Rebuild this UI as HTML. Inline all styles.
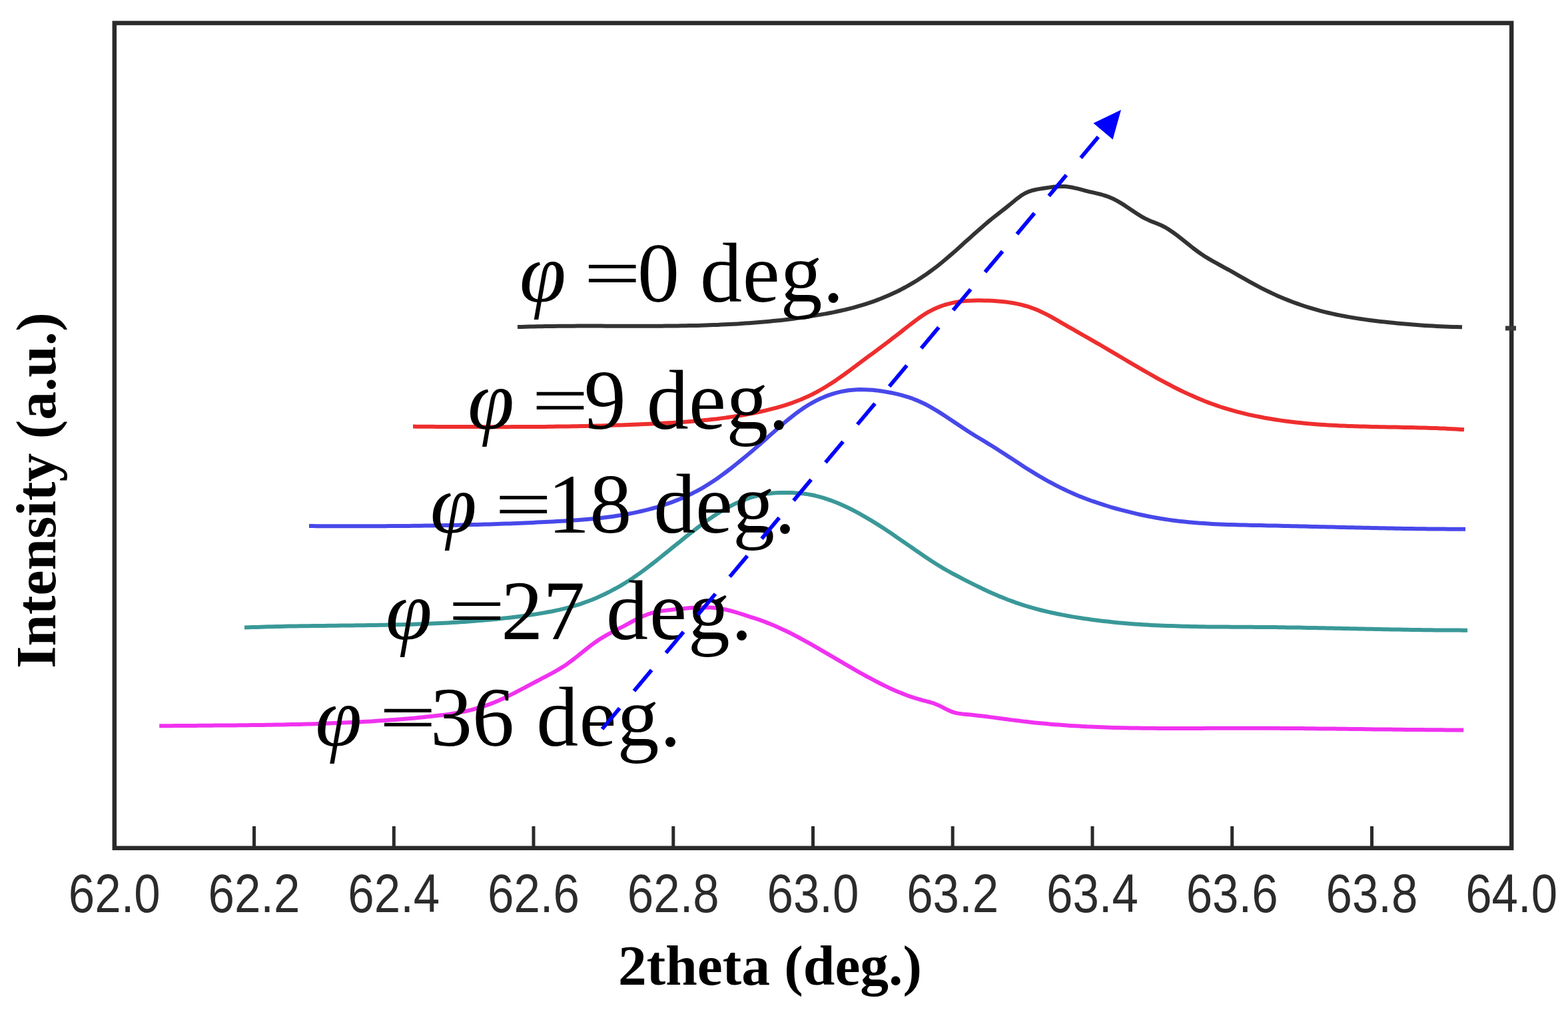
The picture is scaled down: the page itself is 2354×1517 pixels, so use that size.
<!DOCTYPE html>
<html><head><meta charset="utf-8"><title>XRD 2theta scan</title>
<style>
html,body{margin:0;padding:0;background:#fff;}
body{width:2354px;height:1517px;overflow:hidden;}
svg{display:block;}
.tk{font-family:"Liberation Sans",Arial,sans-serif;font-size:82px;fill:#2b2b2b;}
.lab{font-family:"Liberation Serif","Times New Roman",serif;font-size:126px;fill:#000;}
.eq{font-family:"DejaVu Sans",sans-serif;font-weight:200;font-size:133px;fill:#000;}
.ax{font-family:"Liberation Serif","Times New Roman",serif;font-weight:bold;font-size:85.5px;fill:#000;}
</style></head><body>
<svg xmlns="http://www.w3.org/2000/svg" width="2354" height="1517" viewBox="0 0 2354 1517">
<rect width="2354" height="1517" fill="#fff"/>
<path d="M777.0,491.1 L783.0,490.9 L789.0,490.7 L795.0,490.5 L801.0,490.4 L807.0,490.3 L813.0,490.2 L819.0,490.0 L825.0,490.0 L831.0,489.9 L837.0,489.8 L843.0,489.8 L849.0,489.7 L855.0,489.7 L861.0,489.7 L867.0,489.6 L873.0,489.6 L879.0,489.6 L885.0,489.6 L891.0,489.6 L897.0,489.6 L903.0,489.6 L909.0,489.7 L915.0,489.7 L921.0,489.7 L927.0,489.7 L933.0,489.7 L939.0,489.7 L945.0,489.7 L951.0,489.8 L957.0,489.8 L963.0,489.8 L969.0,489.8 L975.0,489.7 L981.0,489.7 L987.0,489.7 L993.0,489.7 L999.0,489.6 L1005.0,489.6 L1011.0,489.5 L1017.0,489.4 L1023.0,489.3 L1029.0,489.2 L1035.0,489.1 L1041.0,489.0 L1047.0,488.9 L1053.0,488.7 L1059.0,488.5 L1065.0,488.3 L1071.0,488.1 L1077.0,487.9 L1083.0,487.6 L1089.0,487.3 L1095.0,487.0 L1101.0,486.7 L1107.0,486.4 L1113.0,486.0 L1119.0,485.6 L1125.0,485.2 L1131.0,484.8 L1137.0,484.3 L1143.0,483.8 L1149.0,483.3 L1155.0,482.7 L1161.0,482.1 L1167.0,481.5 L1173.0,480.9 L1179.0,480.2 L1185.0,479.5 L1191.0,478.7 L1197.0,477.9 L1203.0,477.1 L1209.0,476.2 L1215.0,475.3 L1221.0,474.4 L1227.0,473.4 L1233.0,472.4 L1239.0,471.4 L1245.0,470.2 L1251.0,469.1 L1257.0,467.8 L1263.0,466.5 L1269.0,465.1 L1275.0,463.6 L1281.0,462.1 L1287.0,460.4 L1293.0,458.7 L1299.0,456.8 L1305.0,454.9 L1311.0,452.8 L1317.0,450.6 L1323.0,448.3 L1329.0,445.8 L1335.0,443.3 L1341.0,440.5 L1347.0,437.7 L1353.0,434.7 L1359.0,431.5 L1365.0,428.1 L1371.0,424.6 L1377.0,421.0 L1383.0,417.1 L1389.0,413.1 L1395.0,408.8 L1401.0,404.4 L1407.0,399.8 L1413.0,395.0 L1419.0,390.0 L1425.0,384.9 L1431.0,379.7 L1437.0,374.4 L1443.0,369.0 L1449.0,363.6 L1455.0,358.2 L1461.0,352.8 L1467.0,347.5 L1473.0,342.2 L1479.0,337.0 L1485.0,331.9 L1491.0,327.0 L1497.0,322.3 L1503.0,317.6 L1509.0,313.0 L1515.0,308.2 L1521.0,303.2 L1527.0,298.3 L1533.0,293.8 L1539.0,290.2 L1545.0,287.6 L1551.0,285.7 L1557.0,284.4 L1563.0,283.4 L1569.0,282.5 L1575.0,281.6 L1581.0,280.8 L1587.0,280.3 L1593.0,280.0 L1599.0,280.1 L1605.0,280.8 L1611.0,281.8 L1617.0,283.2 L1623.0,284.7 L1629.0,286.3 L1635.0,287.8 L1641.0,289.2 L1647.0,290.6 L1653.0,292.0 L1659.0,293.8 L1665.0,295.9 L1671.0,298.5 L1677.0,301.6 L1683.0,305.1 L1689.0,308.9 L1695.0,312.9 L1701.0,317.0 L1707.0,321.0 L1713.0,324.8 L1719.0,328.1 L1725.0,330.9 L1731.0,333.4 L1737.0,335.7 L1743.0,338.3 L1749.0,341.3 L1755.0,344.9 L1761.0,349.0 L1767.0,353.4 L1773.0,358.1 L1779.0,362.9 L1785.0,367.7 L1791.0,372.5 L1797.0,377.0 L1803.0,381.3 L1809.0,385.2 L1815.0,388.9 L1821.0,392.4 L1827.0,395.7 L1833.0,399.0 L1839.0,402.3 L1845.0,405.5 L1851.0,408.9 L1857.0,412.3 L1863.0,415.8 L1869.0,419.2 L1875.0,422.6 L1881.0,425.9 L1887.0,429.2 L1893.0,432.3 L1899.0,435.4 L1905.0,438.3 L1911.0,441.1 L1917.0,443.9 L1923.0,446.5 L1929.0,449.0 L1935.0,451.4 L1941.0,453.7 L1947.0,455.9 L1953.0,458.0 L1959.0,460.0 L1965.0,461.9 L1971.0,463.7 L1977.0,465.4 L1983.0,467.1 L1989.0,468.6 L1995.0,470.0 L2001.0,471.4 L2007.0,472.7 L2013.0,473.9 L2019.0,475.0 L2025.0,476.1 L2031.0,477.1 L2037.0,478.1 L2043.0,479.0 L2049.0,479.9 L2055.0,480.7 L2061.0,481.4 L2067.0,482.2 L2073.0,482.9 L2079.0,483.6 L2085.0,484.2 L2091.0,484.8 L2097.0,485.4 L2103.0,486.0 L2109.0,486.6 L2115.0,487.1 L2121.0,487.6 L2127.0,488.0 L2133.0,488.5 L2139.0,488.9 L2145.0,489.3 L2151.0,489.6 L2157.0,489.9 L2163.0,490.2 L2169.0,490.5 L2175.0,490.7 L2181.0,490.9 L2187.0,491.1 L2193.0,491.2 L2195.0,491.3" fill="none" stroke="#333333" stroke-width="6.0" stroke-linejoin="round" stroke-linecap="butt"/>
<path d="M620.0,640.6 L626.0,640.7 L632.0,640.7 L638.0,640.8 L644.0,640.8 L650.0,640.8 L656.0,640.9 L662.0,640.9 L668.0,640.9 L674.0,641.0 L680.0,641.0 L686.0,641.0 L692.0,641.1 L698.0,641.1 L704.0,641.1 L710.0,641.1 L716.0,641.1 L722.0,641.2 L728.0,641.2 L734.0,641.2 L740.0,641.2 L746.0,641.2 L752.0,641.2 L758.0,641.2 L764.0,641.2 L770.0,641.1 L776.0,641.1 L782.0,641.1 L788.0,641.1 L794.0,641.0 L800.0,641.0 L806.0,641.0 L812.0,640.9 L818.0,640.9 L824.0,640.8 L830.0,640.7 L836.0,640.6 L842.0,640.6 L848.0,640.5 L854.0,640.4 L860.0,640.3 L866.0,640.2 L872.0,640.1 L878.0,639.9 L884.0,639.8 L890.0,639.7 L896.0,639.5 L902.0,639.4 L908.0,639.2 L914.0,639.0 L920.0,638.8 L926.0,638.6 L932.0,638.4 L938.0,638.2 L944.0,638.0 L950.0,637.8 L956.0,637.5 L962.0,637.3 L968.0,637.0 L974.0,636.8 L980.0,636.5 L986.0,636.2 L992.0,635.9 L998.0,635.6 L1004.0,635.2 L1010.0,634.9 L1016.0,634.5 L1022.0,634.1 L1028.0,633.7 L1034.0,633.2 L1040.0,632.7 L1046.0,632.2 L1052.0,631.7 L1058.0,631.1 L1064.0,630.5 L1070.0,629.8 L1076.0,629.2 L1082.0,628.4 L1088.0,627.6 L1094.0,626.8 L1100.0,625.9 L1106.0,625.0 L1112.0,624.0 L1118.0,623.0 L1124.0,621.9 L1130.0,620.7 L1136.0,619.5 L1142.0,618.2 L1148.0,616.9 L1154.0,615.4 L1160.0,613.9 L1166.0,612.3 L1172.0,610.6 L1178.0,608.8 L1184.0,606.8 L1190.0,604.8 L1196.0,602.5 L1202.0,600.2 L1208.0,597.6 L1214.0,594.9 L1220.0,592.0 L1226.0,588.9 L1232.0,585.5 L1238.0,582.0 L1244.0,578.3 L1250.0,574.4 L1256.0,570.4 L1262.0,566.2 L1268.0,562.0 L1274.0,557.6 L1280.0,553.2 L1286.0,548.7 L1292.0,544.2 L1298.0,539.7 L1304.0,535.2 L1310.0,530.8 L1316.0,526.3 L1322.0,521.8 L1328.0,517.3 L1334.0,512.8 L1340.0,508.2 L1346.0,503.6 L1352.0,499.0 L1358.0,494.2 L1364.0,489.5 L1370.0,484.8 L1376.0,480.3 L1382.0,476.0 L1388.0,472.0 L1394.0,468.4 L1400.0,465.3 L1406.0,462.5 L1412.0,460.1 L1418.0,458.0 L1424.0,456.3 L1430.0,454.9 L1436.0,453.7 L1442.0,452.8 L1448.0,452.1 L1454.0,451.7 L1460.0,451.4 L1466.0,451.2 L1472.0,451.2 L1478.0,451.4 L1484.0,451.6 L1490.0,451.8 L1496.0,452.2 L1502.0,452.7 L1508.0,453.3 L1514.0,454.1 L1520.0,455.0 L1526.0,456.1 L1532.0,457.4 L1538.0,459.0 L1544.0,460.7 L1550.0,462.8 L1556.0,465.1 L1562.0,467.8 L1568.0,470.6 L1574.0,473.7 L1580.0,477.0 L1586.0,480.3 L1592.0,483.8 L1598.0,487.3 L1604.0,490.8 L1610.0,494.2 L1616.0,497.7 L1622.0,501.1 L1628.0,504.5 L1634.0,507.9 L1640.0,511.3 L1646.0,514.8 L1652.0,518.2 L1658.0,521.8 L1664.0,525.3 L1670.0,528.8 L1676.0,532.4 L1682.0,536.0 L1688.0,539.5 L1694.0,543.1 L1700.0,546.6 L1706.0,550.1 L1712.0,553.6 L1718.0,557.1 L1724.0,560.5 L1730.0,563.9 L1736.0,567.3 L1742.0,570.6 L1748.0,573.8 L1754.0,577.0 L1760.0,580.2 L1766.0,583.2 L1772.0,586.2 L1778.0,589.1 L1784.0,591.9 L1790.0,594.6 L1796.0,597.3 L1802.0,599.8 L1808.0,602.3 L1814.0,604.6 L1820.0,606.8 L1826.0,608.9 L1832.0,611.0 L1838.0,612.9 L1844.0,614.7 L1850.0,616.4 L1856.0,618.1 L1862.0,619.7 L1868.0,621.1 L1874.0,622.6 L1880.0,623.9 L1886.0,625.1 L1892.0,626.3 L1898.0,627.5 L1904.0,628.5 L1910.0,629.5 L1916.0,630.5 L1922.0,631.4 L1928.0,632.2 L1934.0,633.0 L1940.0,633.7 L1946.0,634.4 L1952.0,635.1 L1958.0,635.7 L1964.0,636.2 L1970.0,636.7 L1976.0,637.2 L1982.0,637.7 L1988.0,638.1 L1994.0,638.4 L2000.0,638.8 L2006.0,639.1 L2012.0,639.4 L2018.0,639.6 L2024.0,639.9 L2030.0,640.1 L2036.0,640.3 L2042.0,640.5 L2048.0,640.6 L2054.0,640.8 L2060.0,640.9 L2066.0,641.1 L2072.0,641.2 L2078.0,641.3 L2084.0,641.4 L2090.0,641.5 L2096.0,641.6 L2102.0,641.7 L2108.0,641.9 L2114.0,642.0 L2120.0,642.1 L2126.0,642.2 L2132.0,642.4 L2138.0,642.6 L2144.0,642.7 L2150.0,642.9 L2156.0,643.1 L2162.0,643.4 L2168.0,643.6 L2174.0,643.9 L2180.0,644.2 L2186.0,644.6 L2192.0,644.9 L2198.0,645.3" fill="none" stroke="#ee2e2e" stroke-width="6.0" stroke-linejoin="round" stroke-linecap="butt"/>
<path d="M464.0,790.1 L470.0,790.1 L476.0,790.2 L482.0,790.2 L488.0,790.2 L494.0,790.2 L500.0,790.3 L506.0,790.3 L512.0,790.3 L518.0,790.3 L524.0,790.3 L530.0,790.3 L536.0,790.3 L542.0,790.3 L548.0,790.3 L554.0,790.3 L560.0,790.3 L566.0,790.2 L572.0,790.2 L578.0,790.2 L584.0,790.1 L590.0,790.1 L596.0,790.1 L602.0,790.0 L608.0,789.9 L614.0,789.9 L620.0,789.8 L626.0,789.7 L632.0,789.7 L638.0,789.6 L644.0,789.5 L650.0,789.4 L656.0,789.3 L662.0,789.2 L668.0,789.1 L674.0,789.0 L680.0,788.8 L686.0,788.7 L692.0,788.6 L698.0,788.4 L704.0,788.3 L710.0,788.1 L716.0,788.0 L722.0,787.8 L728.0,787.6 L734.0,787.4 L740.0,787.2 L746.0,787.0 L752.0,786.8 L758.0,786.6 L764.0,786.4 L770.0,786.2 L776.0,785.9 L782.0,785.7 L788.0,785.4 L794.0,785.2 L800.0,784.9 L806.0,784.6 L812.0,784.3 L818.0,784.0 L824.0,783.7 L830.0,783.4 L836.0,783.1 L842.0,782.7 L848.0,782.4 L854.0,782.0 L860.0,781.6 L866.0,781.2 L872.0,780.8 L878.0,780.3 L884.0,779.8 L890.0,779.2 L896.0,778.6 L902.0,778.0 L908.0,777.3 L914.0,776.5 L920.0,775.7 L926.0,774.8 L932.0,773.9 L938.0,772.9 L944.0,771.8 L950.0,770.6 L956.0,769.4 L962.0,768.0 L968.0,766.6 L974.0,765.1 L980.0,763.5 L986.0,761.8 L992.0,759.9 L998.0,758.0 L1004.0,755.9 L1010.0,753.8 L1016.0,751.4 L1022.0,749.0 L1028.0,746.4 L1034.0,743.6 L1040.0,740.7 L1046.0,737.6 L1052.0,734.3 L1058.0,730.8 L1064.0,727.1 L1070.0,723.2 L1076.0,719.2 L1082.0,714.9 L1088.0,710.5 L1094.0,706.0 L1100.0,701.3 L1106.0,696.5 L1112.0,691.7 L1118.0,686.7 L1124.0,681.8 L1130.0,676.7 L1136.0,671.5 L1142.0,666.2 L1148.0,660.9 L1154.0,655.5 L1160.0,650.2 L1166.0,644.9 L1172.0,639.6 L1178.0,634.5 L1184.0,629.6 L1190.0,624.8 L1196.0,620.2 L1202.0,615.9 L1208.0,611.8 L1214.0,608.0 L1220.0,604.6 L1226.0,601.4 L1232.0,598.5 L1238.0,595.9 L1244.0,593.6 L1250.0,591.6 L1256.0,589.8 L1262.0,588.4 L1268.0,587.2 L1274.0,586.3 L1280.0,585.7 L1286.0,585.3 L1292.0,585.1 L1298.0,585.2 L1304.0,585.4 L1310.0,585.8 L1316.0,586.4 L1322.0,587.2 L1328.0,588.1 L1334.0,589.2 L1340.0,590.3 L1346.0,591.7 L1352.0,593.1 L1358.0,594.8 L1364.0,596.7 L1370.0,598.7 L1376.0,601.1 L1382.0,603.7 L1388.0,606.5 L1394.0,609.7 L1400.0,613.1 L1406.0,616.6 L1412.0,620.4 L1418.0,624.3 L1424.0,628.2 L1430.0,632.2 L1436.0,636.3 L1442.0,640.3 L1448.0,644.3 L1454.0,648.2 L1460.0,652.0 L1466.0,655.7 L1472.0,659.3 L1478.0,662.9 L1484.0,666.6 L1490.0,670.3 L1496.0,674.0 L1502.0,677.9 L1508.0,681.7 L1514.0,685.7 L1520.0,689.6 L1526.0,693.6 L1532.0,697.5 L1538.0,701.4 L1544.0,705.2 L1550.0,708.9 L1556.0,712.6 L1562.0,716.2 L1568.0,719.6 L1574.0,723.0 L1580.0,726.2 L1586.0,729.4 L1592.0,732.4 L1598.0,735.3 L1604.0,738.1 L1610.0,740.8 L1616.0,743.4 L1622.0,745.9 L1628.0,748.2 L1634.0,750.5 L1640.0,752.7 L1646.0,754.7 L1652.0,756.7 L1658.0,758.7 L1664.0,760.5 L1670.0,762.3 L1676.0,764.0 L1682.0,765.6 L1688.0,767.2 L1694.0,768.7 L1700.0,770.2 L1706.0,771.6 L1712.0,773.0 L1718.0,774.3 L1724.0,775.5 L1730.0,776.6 L1736.0,777.7 L1742.0,778.8 L1748.0,779.7 L1754.0,780.6 L1760.0,781.5 L1766.0,782.2 L1772.0,782.9 L1778.0,783.6 L1784.0,784.2 L1790.0,784.8 L1796.0,785.3 L1802.0,785.7 L1808.0,786.1 L1814.0,786.5 L1820.0,786.9 L1826.0,787.2 L1832.0,787.4 L1838.0,787.7 L1844.0,787.9 L1850.0,788.1 L1856.0,788.3 L1862.0,788.5 L1868.0,788.6 L1874.0,788.7 L1880.0,788.9 L1886.0,789.0 L1892.0,789.1 L1898.0,789.2 L1904.0,789.4 L1910.0,789.5 L1916.0,789.6 L1922.0,789.7 L1928.0,789.9 L1934.0,790.0 L1940.0,790.2 L1946.0,790.3 L1952.0,790.4 L1958.0,790.6 L1964.0,790.7 L1970.0,790.9 L1976.0,791.0 L1982.0,791.2 L1988.0,791.3 L1994.0,791.4 L2000.0,791.6 L2006.0,791.7 L2012.0,791.9 L2018.0,792.0 L2024.0,792.2 L2030.0,792.3 L2036.0,792.4 L2042.0,792.6 L2048.0,792.7 L2054.0,792.8 L2060.0,793.0 L2066.0,793.1 L2072.0,793.2 L2078.0,793.3 L2084.0,793.5 L2090.0,793.6 L2096.0,793.7 L2102.0,793.8 L2108.0,793.9 L2114.0,794.0 L2120.0,794.1 L2126.0,794.2 L2132.0,794.3 L2138.0,794.3 L2144.0,794.4 L2150.0,794.5 L2156.0,794.5 L2162.0,794.6 L2168.0,794.6 L2174.0,794.7 L2180.0,794.7 L2186.0,794.7 L2192.0,794.7 L2198.0,794.7 L2200.0,794.7" fill="none" stroke="#4848ea" stroke-width="6.0" stroke-linejoin="round" stroke-linecap="butt"/>
<path d="M367.0,942.5 L373.0,942.3 L379.0,942.1 L385.0,941.9 L391.0,941.7 L397.0,941.5 L403.0,941.3 L409.0,941.2 L415.0,941.0 L421.0,940.9 L427.0,940.8 L433.0,940.6 L439.0,940.5 L445.0,940.4 L451.0,940.3 L457.0,940.2 L463.0,940.2 L469.0,940.1 L475.0,940.0 L481.0,939.9 L487.0,939.9 L493.0,939.8 L499.0,939.7 L505.0,939.7 L511.0,939.6 L517.0,939.5 L523.0,939.5 L529.0,939.4 L535.0,939.3 L541.0,939.3 L547.0,939.2 L553.0,939.1 L559.0,939.0 L565.0,938.9 L571.0,938.8 L577.0,938.7 L583.0,938.6 L589.0,938.5 L595.0,938.3 L601.0,938.2 L607.0,938.0 L613.0,937.9 L619.0,937.7 L625.0,937.5 L631.0,937.3 L637.0,937.1 L643.0,936.8 L649.0,936.6 L655.0,936.3 L661.0,936.0 L667.0,935.7 L673.0,935.4 L679.0,935.1 L685.0,934.7 L691.0,934.3 L697.0,933.9 L703.0,933.5 L709.0,933.1 L715.0,932.6 L721.0,932.1 L727.0,931.6 L733.0,931.1 L739.0,930.5 L745.0,929.9 L751.0,929.3 L757.0,928.6 L763.0,928.0 L769.0,927.3 L775.0,926.5 L781.0,925.8 L787.0,925.0 L793.0,924.1 L799.0,923.3 L805.0,922.4 L811.0,921.4 L817.0,920.4 L823.0,919.3 L829.0,918.2 L835.0,916.9 L841.0,915.6 L847.0,914.2 L853.0,912.6 L859.0,911.0 L865.0,909.2 L871.0,907.3 L877.0,905.2 L883.0,903.0 L889.0,900.7 L895.0,898.2 L901.0,895.5 L907.0,892.7 L913.0,889.8 L919.0,886.7 L925.0,883.5 L931.0,880.1 L937.0,876.5 L943.0,872.8 L949.0,868.9 L955.0,864.8 L961.0,860.6 L967.0,856.2 L973.0,851.6 L979.0,847.0 L985.0,842.3 L991.0,837.5 L997.0,832.6 L1003.0,827.8 L1009.0,822.9 L1015.0,818.1 L1021.0,813.3 L1027.0,808.4 L1033.0,803.7 L1039.0,799.0 L1045.0,794.3 L1051.0,789.7 L1057.0,785.2 L1063.0,780.9 L1069.0,776.7 L1075.0,772.8 L1081.0,769.0 L1087.0,765.4 L1093.0,762.0 L1099.0,758.9 L1105.0,755.9 L1111.0,753.3 L1117.0,750.9 L1123.0,748.7 L1129.0,746.7 L1135.0,745.0 L1141.0,743.6 L1147.0,742.4 L1153.0,741.4 L1159.0,740.7 L1165.0,740.3 L1171.0,740.0 L1177.0,739.9 L1183.0,740.0 L1189.0,740.1 L1195.0,740.5 L1201.0,740.9 L1207.0,741.6 L1213.0,742.4 L1219.0,743.5 L1225.0,744.8 L1231.0,746.4 L1237.0,748.1 L1243.0,750.1 L1249.0,752.2 L1255.0,754.5 L1261.0,757.0 L1267.0,759.7 L1273.0,762.5 L1279.0,765.5 L1285.0,768.6 L1291.0,771.9 L1297.0,775.3 L1303.0,778.8 L1309.0,782.4 L1315.0,786.1 L1321.0,789.9 L1327.0,793.8 L1333.0,797.8 L1339.0,801.8 L1345.0,805.9 L1351.0,810.1 L1357.0,814.2 L1363.0,818.4 L1369.0,822.5 L1375.0,826.7 L1381.0,830.8 L1387.0,834.9 L1393.0,839.0 L1399.0,842.9 L1405.0,846.8 L1411.0,850.5 L1417.0,854.1 L1423.0,857.5 L1429.0,860.8 L1435.0,864.0 L1441.0,867.2 L1447.0,870.3 L1453.0,873.4 L1459.0,876.4 L1465.0,879.4 L1471.0,882.3 L1477.0,885.2 L1483.0,888.0 L1489.0,890.7 L1495.0,893.3 L1501.0,895.9 L1507.0,898.3 L1513.0,900.7 L1519.0,902.9 L1525.0,905.1 L1531.0,907.2 L1537.0,909.1 L1543.0,911.0 L1549.0,912.7 L1555.0,914.4 L1561.0,916.0 L1567.0,917.5 L1573.0,918.9 L1579.0,920.2 L1585.0,921.5 L1591.0,922.7 L1597.0,923.9 L1603.0,925.0 L1609.0,926.1 L1615.0,927.1 L1621.0,928.0 L1627.0,929.0 L1633.0,929.8 L1639.0,930.7 L1645.0,931.5 L1651.0,932.2 L1657.0,932.9 L1663.0,933.6 L1669.0,934.3 L1675.0,934.9 L1681.0,935.4 L1687.0,936.0 L1693.0,936.5 L1699.0,936.9 L1705.0,937.4 L1711.0,937.8 L1717.0,938.2 L1723.0,938.5 L1729.0,938.9 L1735.0,939.2 L1741.0,939.4 L1747.0,939.7 L1753.0,939.9 L1759.0,940.1 L1765.0,940.3 L1771.0,940.5 L1777.0,940.7 L1783.0,940.8 L1789.0,941.0 L1795.0,941.1 L1801.0,941.2 L1807.0,941.3 L1813.0,941.4 L1819.0,941.4 L1825.0,941.5 L1831.0,941.5 L1837.0,941.6 L1843.0,941.6 L1849.0,941.7 L1855.0,941.7 L1861.0,941.7 L1867.0,941.8 L1873.0,941.8 L1879.0,941.8 L1885.0,941.9 L1891.0,941.9 L1897.0,942.0 L1903.0,942.0 L1909.0,942.1 L1915.0,942.1 L1921.0,942.2 L1927.0,942.3 L1933.0,942.4 L1939.0,942.5 L1945.0,942.6 L1951.0,942.6 L1957.0,942.8 L1963.0,942.9 L1969.0,943.0 L1975.0,943.1 L1981.0,943.2 L1987.0,943.3 L1993.0,943.4 L1999.0,943.5 L2005.0,943.7 L2011.0,943.8 L2017.0,943.9 L2023.0,944.1 L2029.0,944.2 L2035.0,944.3 L2041.0,944.4 L2047.0,944.6 L2053.0,944.7 L2059.0,944.8 L2065.0,944.9 L2071.0,945.1 L2077.0,945.2 L2083.0,945.3 L2089.0,945.4 L2095.0,945.5 L2101.0,945.6 L2107.0,945.7 L2113.0,945.8 L2119.0,945.9 L2125.0,946.0 L2131.0,946.1 L2137.0,946.2 L2143.0,946.3 L2149.0,946.3 L2155.0,946.4 L2161.0,946.5 L2167.0,946.5 L2173.0,946.6 L2179.0,946.6 L2185.0,946.6 L2191.0,946.6 L2197.0,946.7 L2203.0,946.7" fill="none" stroke="#3a9898" stroke-width="6.0" stroke-linejoin="round" stroke-linecap="butt"/>
<path d="M239.2,1090.3 L245.2,1090.3 L251.2,1090.2 L257.2,1090.2 L263.2,1090.1 L269.2,1090.1 L275.2,1090.0 L281.2,1090.0 L287.2,1089.9 L293.2,1089.9 L299.2,1089.8 L305.2,1089.8 L311.2,1089.7 L317.2,1089.7 L323.2,1089.6 L329.2,1089.6 L335.2,1089.6 L341.2,1089.5 L347.2,1089.4 L353.2,1089.4 L359.2,1089.3 L365.2,1089.3 L371.2,1089.2 L377.2,1089.1 L383.2,1089.1 L389.2,1089.0 L395.2,1088.9 L401.2,1088.8 L407.2,1088.7 L413.2,1088.6 L419.2,1088.5 L425.2,1088.4 L431.2,1088.3 L437.2,1088.1 L443.2,1088.0 L449.2,1087.9 L455.2,1087.7 L461.2,1087.5 L467.2,1087.4 L473.2,1087.2 L479.2,1087.0 L485.2,1086.8 L491.2,1086.6 L497.2,1086.3 L503.2,1086.1 L509.2,1085.8 L515.2,1085.6 L521.2,1085.3 L527.2,1085.0 L533.2,1084.7 L539.2,1084.4 L545.2,1084.1 L551.2,1083.7 L557.2,1083.4 L563.2,1083.0 L569.2,1082.6 L575.2,1082.2 L581.2,1081.8 L587.2,1081.3 L593.2,1080.9 L599.2,1080.4 L605.2,1079.9 L611.2,1079.4 L617.2,1078.9 L623.2,1078.4 L629.2,1077.8 L635.2,1077.2 L641.2,1076.6 L647.2,1076.0 L653.2,1075.3 L659.2,1074.6 L665.2,1073.9 L671.2,1073.1 L677.2,1072.2 L683.2,1071.2 L689.2,1070.1 L695.2,1069.0 L701.2,1067.7 L707.2,1066.3 L713.2,1064.7 L719.2,1063.0 L725.2,1061.2 L731.2,1059.1 L737.2,1056.9 L743.2,1054.6 L749.2,1052.0 L755.2,1049.3 L761.2,1046.4 L767.2,1043.4 L773.2,1040.4 L779.2,1037.2 L785.2,1034.1 L791.2,1030.9 L797.2,1027.7 L803.2,1024.5 L809.2,1021.3 L815.2,1018.2 L821.2,1015.1 L827.2,1011.9 L833.2,1008.6 L839.2,1005.1 L845.2,1001.4 L851.2,997.4 L857.2,993.0 L863.2,988.5 L869.2,983.7 L875.2,978.9 L881.2,974.1 L887.2,969.4 L893.2,965.0 L899.2,960.8 L905.2,957.1 L911.2,953.6 L917.2,950.4 L923.2,947.3 L929.2,944.2 L935.2,941.1 L941.2,937.8 L947.2,934.5 L953.2,931.3 L959.2,928.2 L965.2,925.5 L971.2,923.2 L977.2,921.2 L983.2,919.7 L989.2,918.4 L995.2,917.4 L1001.2,916.6 L1007.2,915.9 L1013.2,915.3 L1019.2,914.7 L1025.2,914.2 L1031.2,913.6 L1037.2,913.1 L1043.2,912.8 L1049.2,912.5 L1055.2,912.4 L1061.2,912.4 L1067.2,912.6 L1073.2,913.1 L1079.2,913.8 L1085.2,914.7 L1091.2,916.0 L1097.2,917.5 L1103.2,919.1 L1109.2,921.0 L1115.2,922.9 L1121.2,924.8 L1127.2,926.8 L1133.2,928.7 L1139.2,930.7 L1145.2,932.8 L1151.2,935.1 L1157.2,937.5 L1163.2,940.0 L1169.2,942.7 L1175.2,945.5 L1181.2,948.3 L1187.2,951.3 L1193.2,954.4 L1199.2,957.5 L1205.2,960.8 L1211.2,964.1 L1217.2,967.4 L1223.2,970.8 L1229.2,974.3 L1235.2,977.8 L1241.2,981.3 L1247.2,984.8 L1253.2,988.3 L1259.2,991.9 L1265.2,995.4 L1271.2,998.9 L1277.2,1002.4 L1283.2,1005.9 L1289.2,1009.3 L1295.2,1012.7 L1301.2,1016.0 L1307.2,1019.2 L1313.2,1022.4 L1319.2,1025.5 L1325.2,1028.5 L1331.2,1031.4 L1337.2,1034.2 L1343.2,1036.9 L1349.2,1039.5 L1355.2,1041.9 L1361.2,1044.2 L1367.2,1046.4 L1373.2,1048.4 L1379.2,1050.2 L1385.2,1051.9 L1391.2,1053.4 L1397.2,1055.0 L1403.2,1056.9 L1409.2,1059.4 L1415.2,1062.4 L1421.2,1065.6 L1427.2,1068.3 L1433.2,1070.4 L1439.2,1071.6 L1445.2,1072.4 L1451.2,1072.9 L1457.2,1073.5 L1463.2,1074.2 L1469.2,1074.9 L1475.2,1075.6 L1481.2,1076.3 L1487.2,1077.1 L1493.2,1077.9 L1499.2,1078.7 L1505.2,1079.5 L1511.2,1080.3 L1517.2,1081.1 L1523.2,1081.9 L1529.2,1082.6 L1535.2,1083.4 L1541.2,1084.1 L1547.2,1084.7 L1553.2,1085.4 L1559.2,1086.0 L1565.2,1086.6 L1571.2,1087.1 L1577.2,1087.7 L1583.2,1088.2 L1589.2,1088.6 L1595.2,1089.1 L1601.2,1089.5 L1607.2,1089.9 L1613.2,1090.3 L1619.2,1090.6 L1625.2,1090.9 L1631.2,1091.3 L1637.2,1091.5 L1643.2,1091.8 L1649.2,1092.1 L1655.2,1092.3 L1661.2,1092.5 L1667.2,1092.7 L1673.2,1092.9 L1679.2,1093.0 L1685.2,1093.2 L1691.2,1093.3 L1697.2,1093.4 L1703.2,1093.5 L1709.2,1093.6 L1715.2,1093.7 L1721.2,1093.7 L1727.2,1093.8 L1733.2,1093.8 L1739.2,1093.9 L1745.2,1093.9 L1751.2,1093.9 L1757.2,1093.9 L1763.2,1093.9 L1769.2,1093.9 L1775.2,1093.9 L1781.2,1093.9 L1787.2,1093.9 L1793.2,1093.9 L1799.2,1093.9 L1805.2,1093.9 L1811.2,1093.8 L1817.2,1093.8 L1823.2,1093.8 L1829.2,1093.8 L1835.2,1093.7 L1841.2,1093.7 L1847.2,1093.7 L1853.2,1093.7 L1859.2,1093.7 L1865.2,1093.7 L1871.2,1093.7 L1877.2,1093.7 L1883.2,1093.7 L1889.2,1093.7 L1895.2,1093.7 L1901.2,1093.7 L1907.2,1093.8 L1913.2,1093.8 L1919.2,1093.8 L1925.2,1093.9 L1931.2,1093.9 L1937.2,1094.0 L1943.2,1094.0 L1949.2,1094.1 L1955.2,1094.1 L1961.2,1094.2 L1967.2,1094.2 L1973.2,1094.3 L1979.2,1094.4 L1985.2,1094.4 L1991.2,1094.5 L1997.2,1094.6 L2003.2,1094.6 L2009.2,1094.7 L2015.2,1094.8 L2021.2,1094.8 L2027.2,1094.9 L2033.2,1095.0 L2039.2,1095.1 L2045.2,1095.1 L2051.2,1095.2 L2057.2,1095.3 L2063.2,1095.4 L2069.2,1095.4 L2075.2,1095.5 L2081.2,1095.6 L2087.2,1095.6 L2093.2,1095.7 L2099.2,1095.8 L2105.2,1095.8 L2111.2,1095.9 L2117.2,1096.0 L2123.2,1096.0 L2129.2,1096.1 L2135.2,1096.1 L2141.2,1096.2 L2147.2,1096.2 L2153.2,1096.3 L2159.2,1096.3 L2165.2,1096.3 L2171.2,1096.4 L2177.2,1096.4 L2183.2,1096.4 L2189.2,1096.4 L2195.2,1096.5 L2197.2,1096.5" fill="none" stroke="#f032f0" stroke-width="6.0" stroke-linejoin="round" stroke-linecap="butt"/>
<text class="lab" x="780" y="453" font-style="italic">φ</text><text class="eq" transform="translate(872.1,453) scale(0.848,1)">=</text><text class="lab" x="957" y="453">0</text><text class="lab" x="1051" y="453" letter-spacing="0.77">deg.</text>
<text class="lab" x="702.2" y="643.5" font-style="italic">φ</text><text class="eq" transform="translate(793.7,643.5) scale(0.848,1)">=</text><text class="lab" x="876.8" y="643.5">9</text><text class="lab" x="970.7" y="643.5" letter-spacing="0.33">deg.</text>
<text class="lab" x="646" y="800" font-style="italic">φ</text><text class="eq" transform="translate(738.4,800) scale(0.848,1)">=</text><text class="lab" x="822.3" y="800">18</text><text class="lab" x="981.2" y="800" letter-spacing="-0.10">deg.</text>
<text class="lab" x="579" y="960" font-style="italic">φ</text><text class="eq" transform="translate(668.5,960) scale(0.848,1)">=</text><text class="lab" x="752.2" y="960">27</text><text class="lab" x="910" y="960" letter-spacing="1.93">deg.</text>
<text class="lab" x="473.5" y="1119.5" font-style="italic">φ</text><text class="eq" transform="translate(565.1,1119.5) scale(0.848,1)">=</text><text class="lab" x="646" y="1119.5">36</text><text class="lab" x="805.3" y="1119.5" letter-spacing="1.17">deg.</text>
<line x1="904" y1="1095" x2="1656.0" y2="197.2" stroke="#0000ff" stroke-width="5.8" stroke-dasharray="41 33.6"/>
<polygon points="1683,165 1670.6,209.4 1641.5,185.0" fill="#0000ff"/>
<rect x="171.8" y="34.6" width="2097.3999999999996" height="1239.2" fill="none" stroke="#2a2a2a" stroke-width="6.5"/>
<rect x="2260" y="489.5" width="16" height="7" fill="#3a3a3a"/>
<line x1="381.5" y1="1241" x2="381.5" y2="1273.8" stroke="#2a2a2a" stroke-width="5"/>
<line x1="591.3" y1="1241" x2="591.3" y2="1273.8" stroke="#2a2a2a" stroke-width="5"/>
<line x1="801.0" y1="1241" x2="801.0" y2="1273.8" stroke="#2a2a2a" stroke-width="5"/>
<line x1="1010.8" y1="1241" x2="1010.8" y2="1273.8" stroke="#2a2a2a" stroke-width="5"/>
<line x1="1220.5" y1="1241" x2="1220.5" y2="1273.8" stroke="#2a2a2a" stroke-width="5"/>
<line x1="1430.2" y1="1241" x2="1430.2" y2="1273.8" stroke="#2a2a2a" stroke-width="5"/>
<line x1="1640.0" y1="1241" x2="1640.0" y2="1273.8" stroke="#2a2a2a" stroke-width="5"/>
<line x1="1849.7" y1="1241" x2="1849.7" y2="1273.8" stroke="#2a2a2a" stroke-width="5"/>
<line x1="2059.5" y1="1241" x2="2059.5" y2="1273.8" stroke="#2a2a2a" stroke-width="5"/>
<text class="tk" x="171.8" y="1369.5" text-anchor="middle" textLength="138" lengthAdjust="spacingAndGlyphs">62.0</text>
<text class="tk" x="381.5" y="1369.5" text-anchor="middle" textLength="138" lengthAdjust="spacingAndGlyphs">62.2</text>
<text class="tk" x="591.3" y="1369.5" text-anchor="middle" textLength="138" lengthAdjust="spacingAndGlyphs">62.4</text>
<text class="tk" x="801.0" y="1369.5" text-anchor="middle" textLength="138" lengthAdjust="spacingAndGlyphs">62.6</text>
<text class="tk" x="1010.8" y="1369.5" text-anchor="middle" textLength="138" lengthAdjust="spacingAndGlyphs">62.8</text>
<text class="tk" x="1220.5" y="1369.5" text-anchor="middle" textLength="138" lengthAdjust="spacingAndGlyphs">63.0</text>
<text class="tk" x="1430.2" y="1369.5" text-anchor="middle" textLength="138" lengthAdjust="spacingAndGlyphs">63.2</text>
<text class="tk" x="1640.0" y="1369.5" text-anchor="middle" textLength="138" lengthAdjust="spacingAndGlyphs">63.4</text>
<text class="tk" x="1849.7" y="1369.5" text-anchor="middle" textLength="138" lengthAdjust="spacingAndGlyphs">63.6</text>
<text class="tk" x="2059.5" y="1369.5" text-anchor="middle" textLength="138" lengthAdjust="spacingAndGlyphs">63.8</text>
<text class="tk" x="2269.2" y="1369.5" text-anchor="middle" textLength="138" lengthAdjust="spacingAndGlyphs">64.0</text>
<text class="ax" x="1156" y="1479" text-anchor="middle">2theta (deg.)</text>
<text class="ax" transform="translate(83,736.5) rotate(-90)" text-anchor="middle">Intensity (a.u.)</text>
</svg>
</body></html>
